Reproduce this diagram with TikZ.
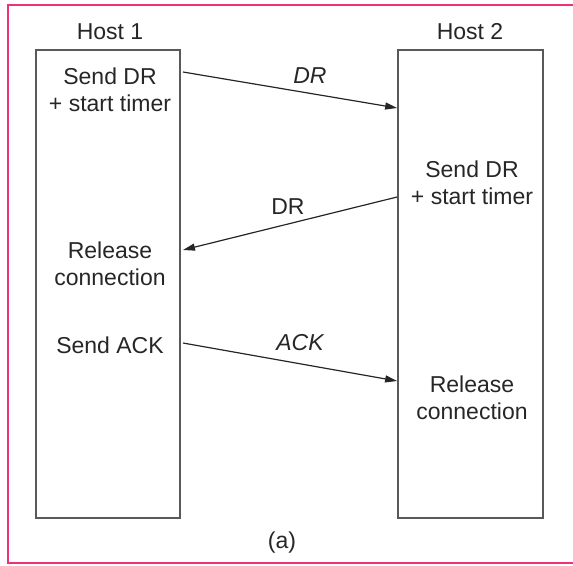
\documentclass[tikz,border=0pt]{standalone}
\usepackage{fontspec}
\setmainfont{Liberation Sans}
\usetikzlibrary{arrows.meta}
\definecolor{framepink}{RGB}{238,50,120}
\definecolor{boxgray}{gray}{0.35}
\tikzset{
  host/.style={draw=boxgray, line width=1.8pt, inner sep=0pt},
  lbl/.style={font=\fontsize{23}{27.5}\selectfont, align=center, text=black!85},
  msg/.style={draw=black!85, line width=1.2pt, -{Triangle[length=12pt,width=7pt]}},
}
\begin{document}
\begin{tikzpicture}[x=1pt,y=-1pt]
  \useasboundingbox (0,0) rectangle (573,565);
  % outer frame (its right side lies past the page edge)
  \begin{scope}
    \clip (0,0) rectangle (573,565);
    \draw[framepink, line width=1.6pt] (590,5) -- (8,5) -- (8,563) -- (590,563);
  \end{scope}

  % the two host time lines
  \node[host, minimum width=144pt, minimum height=468pt] (h1) at (108,284) {};
  \node[host, minimum width=145pt, minimum height=468pt] (h2) at (470.5,284) {};
  \node[lbl] (h1title) at (110,32) {Host 1};
  \node[lbl] (h2title) at (470,32) {Host 2};

  % host 1 events
  \node[lbl] (h1send) at (110,90) {Send DR\\+ start timer};
  \node[lbl] (h1rel) at (110,264) {Release\\connection};
  \node[lbl] (h1ack) at (110,345) {Send ACK};

  % host 2 events
  \node[lbl] (h2send) at (472,183) {Send DR\\+ start timer};
  \node[lbl] (h2rel) at (472,398) {Release\\connection};

  % message end points on the box edges
  \coordinate (m1a) at (183,72);
  \coordinate (m1b) at (h2.west |- 0,108);
  \coordinate (m2a) at (h2.west |- 0,197);
  \coordinate (m2b) at (183,250);
  \coordinate (m3a) at (183,343);
  \coordinate (m3b) at (h2.west |- 0,381);

  \draw[msg] (m1a) -- (m1b);
  \draw[msg] (m2a) -- (m2b);
  \draw[msg] (m3a) -- (m3b);

  \node[lbl] (dr1) at (310,76) {\itshape DR};
  \node[lbl] (dr2) at (288,207) {DR};
  \node[lbl] (ack) at (300,343) {\itshape ACK};

  \node[lbl] (cap) at (282,543) {(a)};
\end{tikzpicture}
\end{document}
